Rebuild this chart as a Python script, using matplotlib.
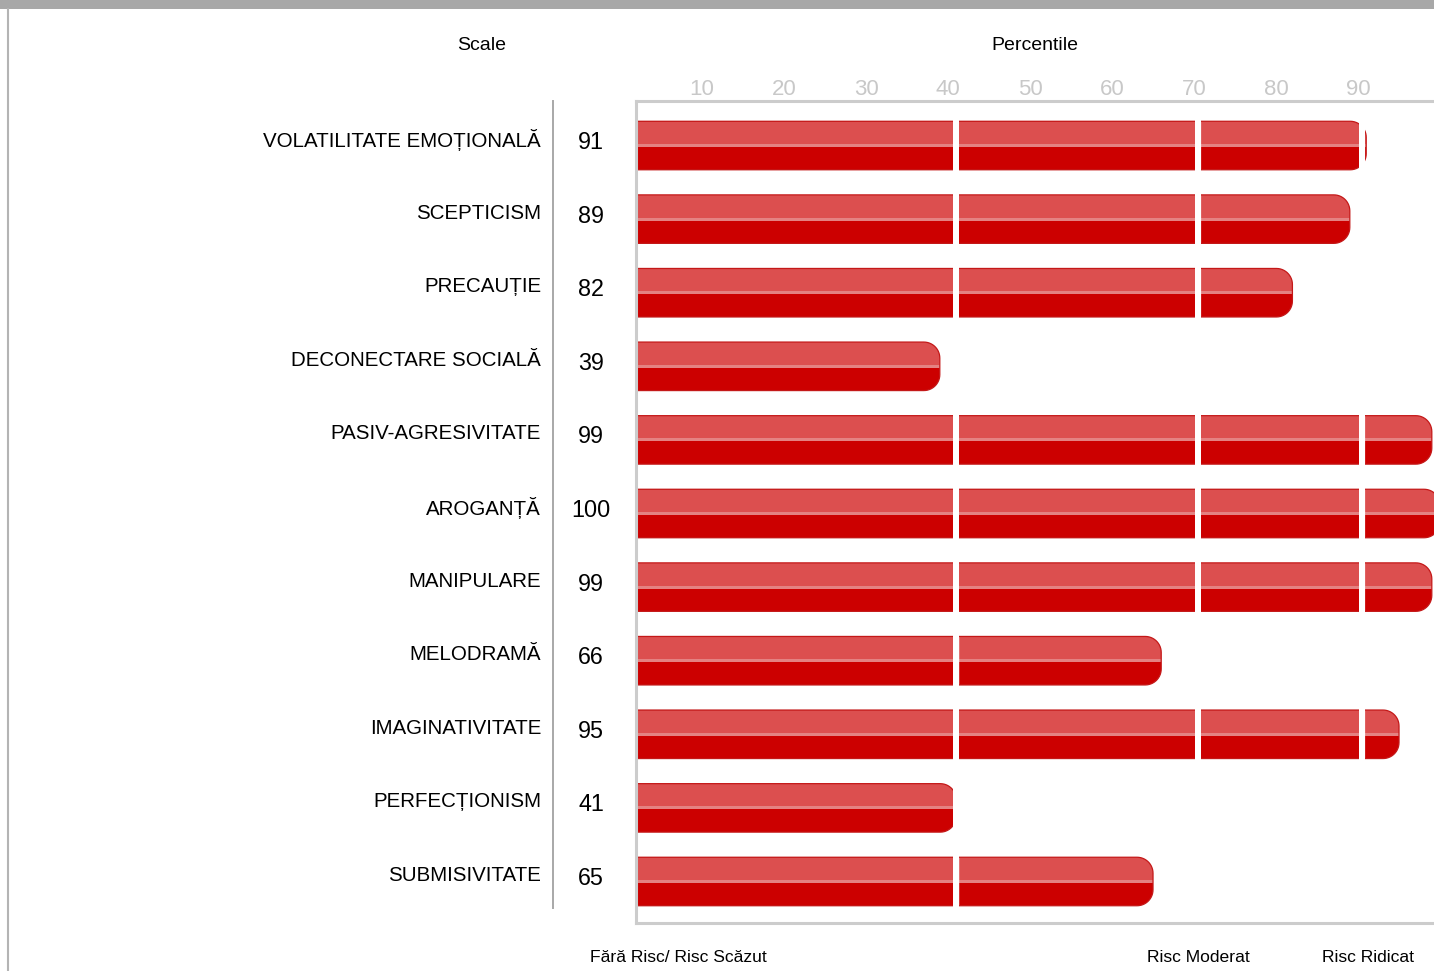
import numpy as np
import matplotlib
matplotlib.use("Agg")
import matplotlib.pyplot as plt
from matplotlib.path import Path
from matplotlib.patches import PathPatch, Rectangle
from matplotlib.lines import Line2D
from matplotlib.transforms import Bbox, TransformedBbox, blended_transform_factory, offset_copy

plt.rcParams['font.family'] = ['Liberation Sans', 'DejaVu Sans']

# data
scales = ["VOLATILITATE EMOȚIONALĂ", "SCEPTICISM", "PRECAUȚIE", "DECONECTARE SOCIALĂ",
          "PASIV-AGRESIVITATE", "AROGANȚĂ", "MANIPULARE", "MELODRAMĂ",
          "IMAGINATIVITATE", "PERFECȚIONISM", "SUBMISIVITATE"]
percentiles = [91, 89, 82, 39, 99, 100, 99, 66, 95, 41, 65]
ticks = [10, 20, 30, 40, 50, 60, 70, 80, 90]
zone_edges = [41, 70.5, 90.5]
zone_labels = ["Fără Risc/ Risc Scăzut", "Risc Moderat", "Risc Ridicat"]

LIGHT = '#dc4f4f'
DARK = '#cc0000'
SHINE = '#e48282'
EDGE = '#c41818'

W, H = 1434, 971
fig = plt.figure(figsize=(W / 100, H / 100), dpi=100)
ax = fig.add_axes([636 / W, 48 / H, 805 / W, 822 / H])
x_lo, x_hi = 1.95, 100.12
ax.set_xlim(x_lo, x_hi)
ax.set_ylim(10.564, -0.605)

ax.set_yticks([])
ax.set_xticks(ticks)
ax.tick_params(axis='x', top=True, labeltop=True, bottom=False, labelbottom=False,
               length=0, pad=0.5, labelsize=16, labelcolor='#c8c8c8')
for sp in ax.spines.values():
    sp.set_color('#cccccc')
    sp.set_linewidth(2.2)
    sp.set_zorder(5)

# pixel sizes -> data units
p0 = ax.transData.transform((0, 0))
p1 = ax.transData.transform((1, 1))
px_x = abs(p1[0] - p0[0])
px_y = abs(p1[1] - p0[1])
hh = 24.25 / px_y          # half bar height
rx, ry = 16 / px_x, 16 / px_y
g = 3 / px_x               # half gap between zones
hl = 1.5 / px_y            # half shine stripe

x0 = x_lo - 0.5
for i, v in enumerate(percentiles):
    top, bot = i - hh, i + hh
    t1 = np.linspace(np.pi / 2, 0, 14)
    t2 = np.linspace(0, -np.pi / 2, 14)
    verts = [(x0, top)]
    verts += list(zip(v - rx + rx * np.cos(t1), top + ry - ry * np.sin(t1)))
    verts += list(zip(v - rx + rx * np.cos(t2), bot - ry - ry * np.sin(t2)))
    verts += [(x0, bot), (x0, top)]
    path = Path(verts, closed=True)

    starts = [x0] + [e + g for e in zone_edges]
    ends = [e - g for e in zone_edges] + [x_hi + 5]
    for xa, xb in zip(starts, ends):
        if xa >= v:
            continue
        seg_box = Bbox([[xa, top - 0.1], [xb, bot + 0.1]])
        clip = PathPatch(path.clip_to_bbox(seg_box), transform=ax.transData)
        parts = [Rectangle((xa, top), xb - xa, hh - hl, fc=LIGHT, lw=0),
                 Rectangle((xa, i - hl), xb - xa, 2 * hl, fc=SHINE, lw=0),
                 Rectangle((xa, i + hl), xb - xa, hh - hl, fc=DARK, lw=0)]
        for p in parts:
            ax.add_patch(p)
            p.set_clip_path(clip)
        outline = PathPatch(path, fc='none', ec=EDGE, lw=0.9)
        ax.add_patch(outline)
        box = Bbox.intersection(TransformedBbox(seg_box, ax.transData), ax.bbox)
        outline.set_clip_box(box)

# row labels and values
lab_tr = offset_copy(blended_transform_factory(fig.transFigure, ax.transData), fig=fig, y=6, units='dots')
num_tr = offset_copy(blended_transform_factory(fig.transFigure, ax.transData), fig=fig, y=3, units='dots')
for i, (name, v) in enumerate(zip(scales, percentiles)):
    fig.text(541 / W, i, name, transform=lab_tr, ha='right', va='center', fontsize=14.8)
    fig.text(591 / W, i, str(v), transform=num_tr, ha='center', va='center', fontsize=16.8)

# headers
fig.text(482 / W, 1 - 45 / H, "Scale", ha='center', va='center', fontsize=14)
fig.text(1035 / W, 1 - 45 / H, "Percentile", ha='center', va='center', fontsize=14)

# zone captions
fig.text(590 / W, 1 - 957 / H, zone_labels[0], ha='left', va='center', fontsize=12.6)
fig.text(1198 / W, 1 - 957 / H, zone_labels[1], ha='center', va='center', fontsize=12.6)
fig.text(1368 / W, 1 - 957 / H, zone_labels[2], ha='center', va='center', fontsize=12.6)

# decorations: top band, left border, separator
fig.add_artist(Rectangle((0, 1 - 9 / H), 1, 9 / H, transform=fig.transFigure,
                         color='#a8a8a8', lw=0))
fig.add_artist(Line2D([8 / W, 8 / W], [0, 1 - 9 / H], transform=fig.transFigure,
                      color='#b4b4b4', lw=1.5))
fig.add_artist(Line2D([553 / W, 553 / W], [1 - 908 / H, 1 - 101 / H], transform=fig.transFigure,
                      color='#a8a8a8', lw=1.4))

fig.savefig("out.png", dpi=100)
